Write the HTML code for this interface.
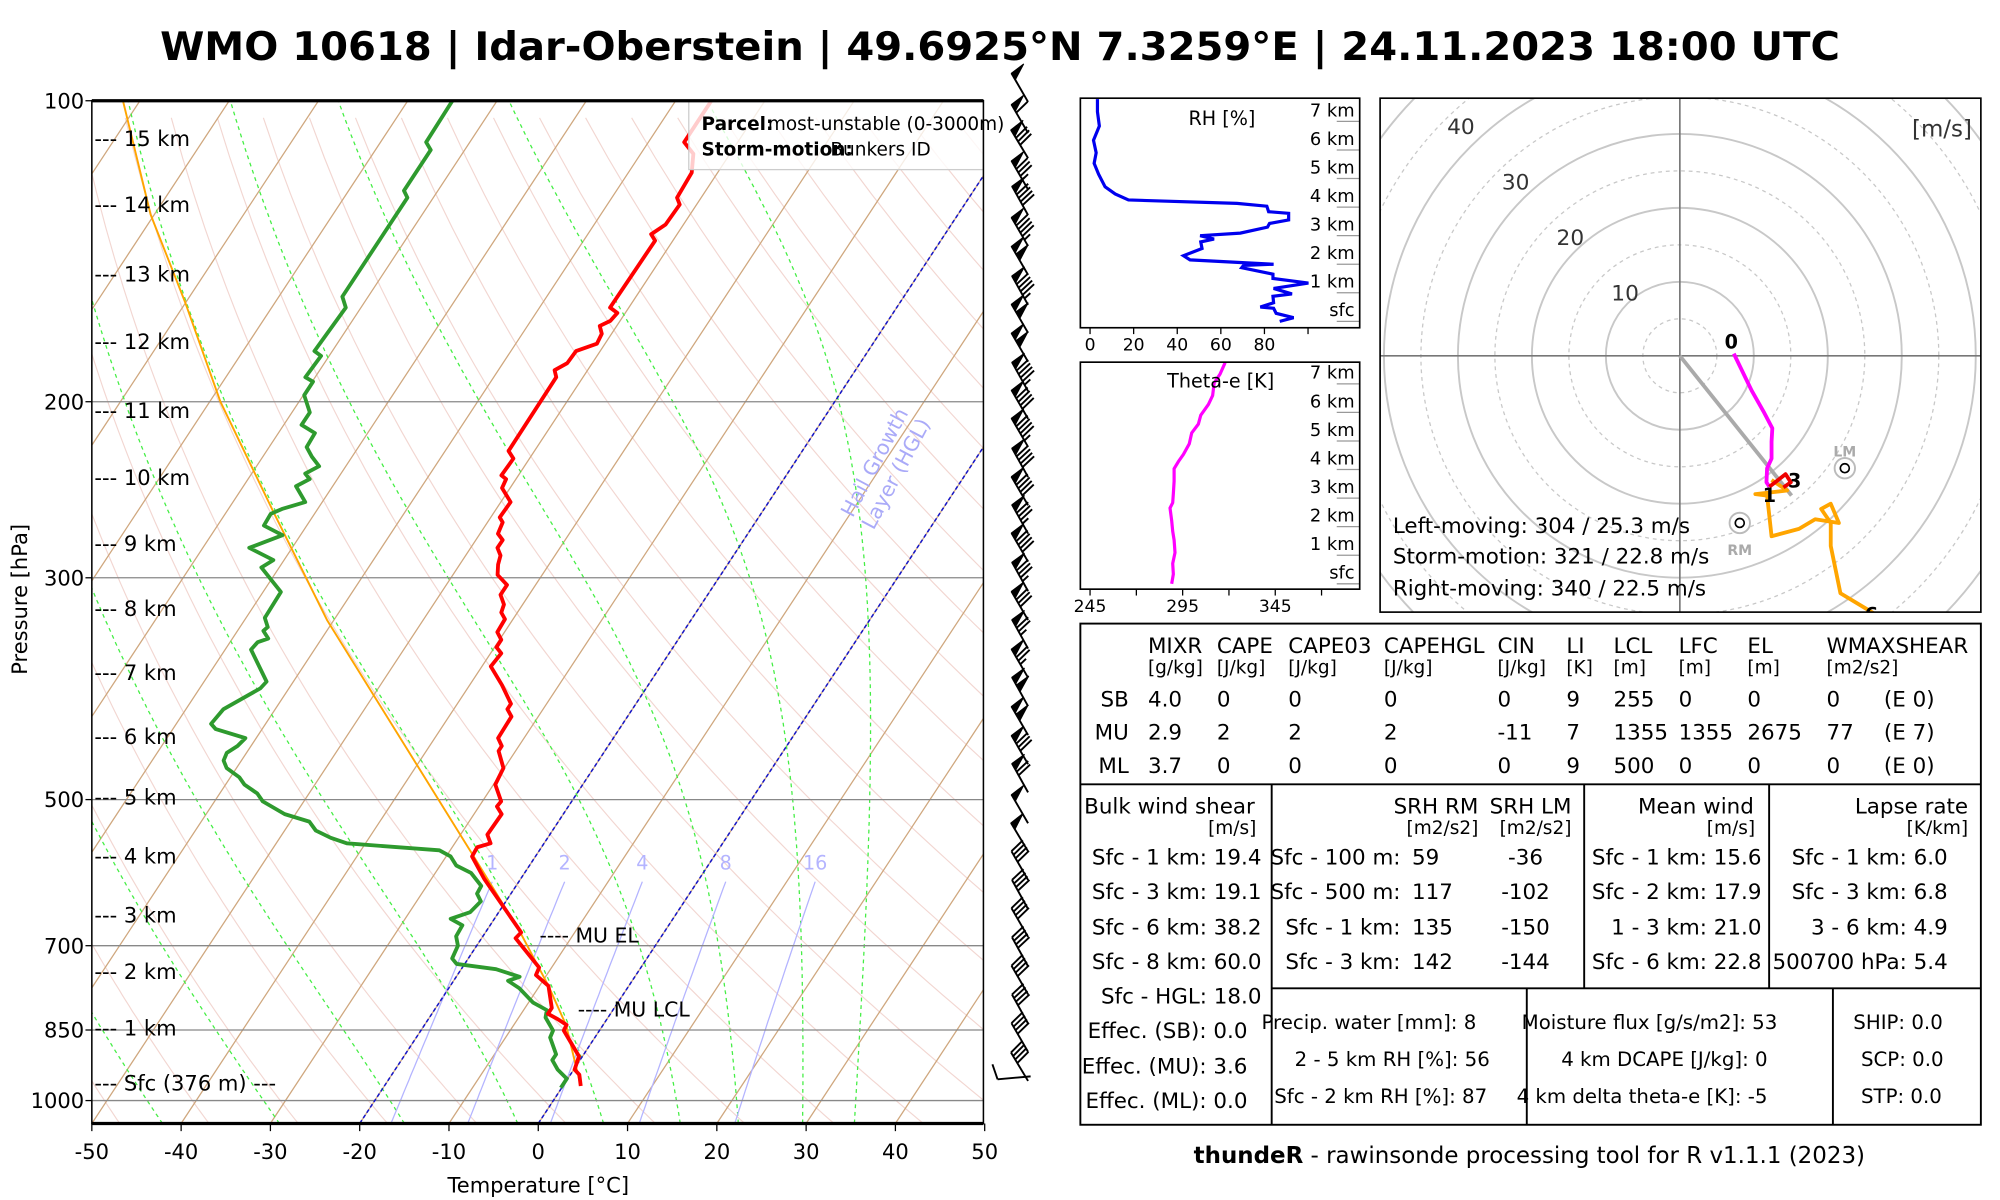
<!DOCTYPE html>
<html><head><meta charset="utf-8"><title>Skew-T WMO 10618</title>
<style>
html,body{margin:0;padding:0;background:#fff;}
svg{display:block;font-family:"DejaVu Sans","Liberation Sans",sans-serif;}
</style></head>
<body>
<svg id="root" width="2000" height="1200" viewBox="0 0 1568 941" preserveAspectRatio="none" xmlns="http://www.w3.org/2000/svg">
<defs>
<clipPath id="skewclip"><rect x="72" y="79" width="699" height="802"/></clipPath>
<clipPath id="rhclip"><rect x="847" y="77" width="219" height="180"/></clipPath>
<clipPath id="thclip"><rect x="847" y="284" width="219" height="178"/></clipPath>
<clipPath id="hodoclip"><rect x="1082" y="77" width="471" height="403"/></clipPath>
</defs>
<rect x="0" y="0" width="1568" height="941" fill="#fff"/>
<text x="784" y="47" text-anchor="middle" font-size="31" font-weight="bold" textLength="1317" lengthAdjust="spacingAndGlyphs">WMO 10618 | Idar-Oberstein | 49.6925°N 7.3259°E | 24.11.2023 18:00 UTC</text>

<g id="skew-bg" clip-path="url(#skewclip)"></g>
<g id="skew-data" clip-path="url(#skewclip)"></g>
<g id="skew-ann"></g>
<g id="barbs"></g>
<g id="rhpanel"></g>
<g id="thpanel"></g>
<g id="hodo"></g>

<g id="table" font-size="16.8">
<rect x="847" y="489" width="706" height="393" fill="none" stroke="#000" stroke-width="1.5"/>
<line x1="847" y1="615" x2="1553" y2="615" stroke="#000" stroke-width="1.5"/>
<line x1="997" y1="615" x2="997" y2="882" stroke="#000" stroke-width="1.5"/>
<line x1="1242" y1="615" x2="1242" y2="775" stroke="#000" stroke-width="1.5"/>
<line x1="1387" y1="615" x2="1387" y2="775" stroke="#000" stroke-width="1.5"/>
<line x1="997" y1="775" x2="1553" y2="775" stroke="#000" stroke-width="1.5"/>
<line x1="1197" y1="775" x2="1197" y2="882" stroke="#000" stroke-width="1.5"/>
<line x1="1437" y1="775" x2="1437" y2="882" stroke="#000" stroke-width="1.5"/>
<g>
<text x="900" y="512">MIXR</text><text x="954" y="512">CAPE</text><text x="1010" y="512">CAPE03</text><text x="1085" y="512">CAPEHGL</text><text x="1174" y="512">CIN</text><text x="1228" y="512">LI</text><text x="1265" y="512">LCL</text><text x="1316" y="512">LFC</text><text x="1370" y="512">EL</text><text x="1432" y="512">WMAXSHEAR</text>
</g>
<g font-size="14.5">
<text x="900" y="528">[g/kg]</text><text x="954" y="528">[J/kg]</text><text x="1010" y="528">[J/kg]</text><text x="1085" y="528">[J/kg]</text><text x="1174" y="528">[J/kg]</text><text x="1228" y="528">[K]</text><text x="1265" y="528">[m]</text><text x="1316" y="528">[m]</text><text x="1370" y="528">[m]</text><text x="1432" y="528">[m2/s2]</text>
</g>
<g>
<text x="885" y="554" text-anchor="end">SB</text><text x="900" y="554">4.0</text><text x="954" y="554">0</text><text x="1010" y="554">0</text><text x="1085" y="554">0</text><text x="1174" y="554">0</text><text x="1228" y="554">9</text><text x="1265" y="554">255</text><text x="1316" y="554">0</text><text x="1370" y="554">0</text><text x="1432" y="554">0</text><text x="1477" y="554">(E 0)</text>
</g>
<g>
<text x="885" y="580" text-anchor="end">MU</text><text x="900" y="580">2.9</text><text x="954" y="580">2</text><text x="1010" y="580">2</text><text x="1085" y="580">2</text><text x="1174" y="580">-11</text><text x="1228" y="580">7</text><text x="1265" y="580">1355</text><text x="1316" y="580">1355</text><text x="1370" y="580">2675</text><text x="1432" y="580">77</text><text x="1477" y="580">(E 7)</text>
</g>
<g>
<text x="885" y="606" text-anchor="end">ML</text><text x="900" y="606">3.7</text><text x="954" y="606">0</text><text x="1010" y="606">0</text><text x="1085" y="606">0</text><text x="1174" y="606">0</text><text x="1228" y="606">9</text><text x="1265" y="606">500</text><text x="1316" y="606">0</text><text x="1370" y="606">0</text><text x="1432" y="606">0</text><text x="1477" y="606">(E 0)</text>
</g>
<g>
<text x="850" y="638">Bulk wind shear</text><text x="985" y="654" text-anchor="end" font-size="14.5">[m/s]</text>
<text x="989" y="678" text-anchor="end">Sfc - 1 km: 19.4</text>
<text x="989" y="705" text-anchor="end">Sfc - 3 km: 19.1</text>
<text x="989" y="733" text-anchor="end">Sfc - 6 km: 38.2</text>
<text x="989" y="760" text-anchor="end">Sfc - 8 km: 60.0</text>
<text x="989" y="787" text-anchor="end">Sfc - HGL: 18.0</text>
<text x="978" y="814" text-anchor="end">Effec. (SB): 0.0</text>
<text x="978" y="842" text-anchor="end">Effec. (MU): 3.6</text>
<text x="978" y="869" text-anchor="end">Effec. (ML): 0.0</text>
</g>
<g>
<text x="1159" y="638" text-anchor="end">SRH RM</text><text x="1232" y="638" text-anchor="end">SRH LM</text>
<text x="1159" y="654" text-anchor="end" font-size="14.5">[m2/s2]</text><text x="1232" y="654" text-anchor="end" font-size="14.5">[m2/s2]</text>
<text x="1098" y="678" text-anchor="end">Sfc - 100 m:</text><text x="1107" y="678">59</text><text x="1196" y="678" text-anchor="middle">-36</text>
<text x="1098" y="705" text-anchor="end">Sfc - 500 m:</text><text x="1107" y="705">117</text><text x="1196" y="705" text-anchor="middle">-102</text>
<text x="1098" y="733" text-anchor="end">Sfc - 1 km:</text><text x="1107" y="733">135</text><text x="1196" y="733" text-anchor="middle">-150</text>
<text x="1098" y="760" text-anchor="end">Sfc - 3 km:</text><text x="1107" y="760">142</text><text x="1196" y="760" text-anchor="middle">-144</text>
</g>
<g>
<text x="1375" y="638" text-anchor="end">Mean wind</text><text x="1376" y="654" text-anchor="end" font-size="14.5">[m/s]</text>
<text x="1381" y="678" text-anchor="end">Sfc - 1 km: 15.6</text>
<text x="1381" y="705" text-anchor="end">Sfc - 2 km: 17.9</text>
<text x="1381" y="733" text-anchor="end">1 - 3 km: 21.0</text>
<text x="1381" y="760" text-anchor="end">Sfc - 6 km: 22.8</text>
</g>
<g>
<text x="1543" y="638" text-anchor="end">Lapse rate</text><text x="1543" y="654" text-anchor="end" font-size="14.5">[K/km]</text>
<text x="1527" y="678" text-anchor="end">Sfc - 1 km: 6.0</text>
<text x="1527" y="705" text-anchor="end">Sfc - 3 km: 6.8</text>
<text x="1527" y="733" text-anchor="end">3 - 6 km: 4.9</text>
<text x="1527" y="760" text-anchor="end">500700 hPa: 5.4</text>
</g>
<g font-size="15.5">
<text x="989" y="807">Precip. water [mm]: 8</text>
<text x="1015" y="836">2 - 5 km RH [%]: 56</text>
<text x="999" y="865">Sfc - 2 km RH [%]: 87</text>
<text x="1193" y="807">Moisture flux [g/s/m2]: 53</text>
<text x="1224" y="836">4 km DCAPE [J/kg]: 0</text>
<text x="1189" y="865">4 km delta theta-e [K]: -5</text>
</g>
<g font-size="15.5">
<text x="1453" y="807">SHIP: 0.0</text>
<text x="1459" y="836">SCP: 0.0</text>
<text x="1459" y="865">STP: 0.0</text>
</g>
</g>
<text x="1199" y="912" text-anchor="middle" font-size="18"><tspan font-weight="bold">thundeR</tspan> - rawinsonde processing tool for R v1.1.1 (2023)</text>
</svg>

<script>
// ---------------- data ----------------
const tempP = [100,110,113,118,125,127,133,136,138,161,163,166,168,171,175,178,183,186,189,224,228,237,239,244,252,261,264,271,275,280,285,291,298,305,312,319,325,330,340,346,352,357,368,384,401,406,413,434,442,447,465,483,502,508,517,542,553,558,570,600,679,688,736,749,768,808,819,829,840,851,903,931,942,967];
const tempT = [-56.0,-56.0,-54.1,-52.9,-52.7,-51.9,-52.0,-52.9,-52.0,-52.1,-50.9,-51.1,-51.9,-51.1,-50.9,-52.7,-52.8,-53.7,-53.0,-52.9,-51.8,-51.9,-51.1,-50.9,-48.9,-49.0,-48.3,-48.0,-47.0,-47.0,-46.1,-45.7,-45.0,-43.2,-43.2,-42.1,-41.8,-40.9,-40.8,-39.8,-39.8,-38.8,-39.0,-36.4,-34.0,-34.0,-33.0,-32.9,-31.9,-31.9,-30.1,-29.8,-27.9,-28.0,-26.9,-27.0,-26.0,-27.2,-27.1,-24.1,-16.0,-16.2,-11.4,-11.2,-9.0,-7.0,-7.0,-5.5,-4.1,-4.0,-0.4,0.1,1.0,2.0];
const dewP = [100,110,112,123,125,157,161,178,180,189,191,197,205,211,215,222,227,232,236,239,243,252,256,259,266,272,280,288,293,310,329,336,339,345,348,354,381,387,406,420,425,434,442,449,457,465,475,483,493,502,517,526,537,546,553,562,570,582,592,610,621,632,648,658,668,685,700,721,730,739,752,759,772,798,812,826,851,865,899,911,931,951,971];
const dewT = [-85.0,-84.9,-83.8,-83.8,-82.9,-82.9,-81.7,-82.0,-80.9,-81.1,-79.9,-79.9,-78.0,-78.0,-75.9,-75.8,-74.5,-73.0,-74.0,-73.1,-74.1,-71.9,-74.0,-74.9,-74.8,-72.0,-74.8,-71.2,-72.0,-68.0,-67.9,-66.9,-67.1,-66.0,-66.9,-67.1,-63.0,-63.2,-65.8,-66.1,-65.2,-61.2,-61.5,-62.2,-62.0,-61.1,-59.0,-57.9,-55.8,-54.6,-51.2,-47.9,-46.5,-44.3,-42.1,-31.2,-29.5,-28.2,-26.0,-23.9,-23.8,-22.8,-23.2,-24.9,-23.1,-23.0,-22.1,-21.8,-20.9,-16.1,-12.9,-13.9,-12.1,-9.5,-7.4,-7.0,-5.2,-5.0,-3.1,-3.1,-1.8,-0.1,-0.1];
const parcelP = [965,841,768,679,571,331,258,200,159,130,100];
const parcelT = [1.9,-4.1,-9.0,-16.1,-26.8,-60.7,-74.7,-88.8,-100.1,-110.4,-121.9];
const pressureTicks = [100,200,300,500,700,850,1000];
const tempTicks = [-50,-40,-30,-20,-10,0,10,20,30,40,50];
const mixingRatios = [1,2,4,8,16];
const moistStartT = [-42.1,-29.0,-15.0,-2.3,7.3,15.9,22.4,29.6,35.4];
const hglBounds = [-20,0];
const heightLabels = ['15 km','14 km','13 km','12 km','11 km','10 km','9 km','8 km','7 km','6 km','5 km','4 km','3 km','2 km','1 km','Sfc (376 m) ---'];
const heightLabelP = [109,127,149,174,204,238,277,322,373,432,497,569,652,743,846,960];
const barbP = [94,101,107,115,122,131,140,150,160,171,183,195,208,223,238,254,271,290,310,331,354,378,404,432,461,495,528,564,603,643,688,734,785,838,896];
const barbSpd = [50,60,80,85,90,95,100,95,100,100,95,90,95,90,90,85,90,85,80,75,75,100,100,80,70,50,50,40,40,40,40,40,40,40,40];
const barbDir = [330,330,329,330,331,330,330,331,330,330,331,330,330,331,330,331,330,331,330,331,330,331,330,330,331,330,329,330,331,330,331,330,331,330,329];
const sfcBarb = {p:957, spd:10, dir:265};
const rhVals = [3.4,3.4,4.3,1.6,2.8,1.9,3.9,6.9,11.5,17.6,67.4,81.1,81.9,91.1,91.1,82.3,81.4,68.9,50.5,56.9,50.8,51.4,42.9,45.9,84.2,70.4,69.6,83.9,83.9,100.2,84.2,92.6,83.9,84.2,78.1,84.2,85.4,93.4,87.0];
const rhHgt = [7.78,7.34,6.84,6.34,5.90,5.53,5.15,4.71,4.46,4.25,4.13,4.03,3.84,3.78,3.55,3.43,3.30,3.09,3.00,2.88,2.78,2.55,2.30,2.15,2.00,1.96,1.88,1.65,1.50,1.34,1.15,0.96,0.88,0.65,0.50,0.46,0.28,0.13,0.00];
const thetaeVals = [317.9,315.2,312.0,311.2,308.9,304.8,303.5,299.9,298.6,295.4,292.7,290.4,290.4,290.0,289.6,288.2,289.1,289.6,290.4,290.9,289.6,290.0,289.1];
const thetaeHgt = [7.74,7.34,7.03,6.59,6.28,5.90,5.59,5.28,4.90,4.53,4.28,4.03,3.59,3.15,2.84,2.65,2.21,1.84,1.53,1.09,0.71,0.34,0.0];
const kmLabels = ['7 km','6 km','5 km','4 km','3 km','2 km','1 km','sfc'];
const kmLevels = [7,6,5,4,3,2,1,0];
const rhTicks = [0,20,40,60,80,100];
const rhTickLabels = ['0','20','40','60','80',''];
const thTicks = [245,270,295,320,345,370];
const thTickLabels = ['245','','295','','345',''];
const hodoU1 = [7.3,9.7,11.3,12.5,12.4,12.4,11.8,11.7,12.1];
const hodoV1 = [0.3,-4.7,-7.5,-9.8,-11.6,-13.9,-15.2,-17.1,-17.7];
const hodoU2 = [12.1,14.3,15.0,14.0];
const hodoV2 = [-17.7,-16.0,-17.1,-17.8];
const hodoU3 = [12.4,14.5,10.2,11.8,12.4,16.1,18.3,21.5,20.4,19.1,20.4,20.4,21.7,25.2,27.5];
const hodoV3 = [-16.8,-18.2,-18.7,-18.9,-24.4,-23.4,-22.1,-22.6,-20.0,-20.7,-22.6,-25.7,-32.1,-34.2,-35.6];
const stormUV = [15.1,-18.9];
const lmUV = [22.3,-15.2];
const rmUV = [8.1,-22.6];
const ringSpeeds = [5,10,15,20,25,30,35,40,45,50,55,60];
const ringLabels = [10,20,30,40];

// ---------------- helpers ----------------
const NS='http://www.w3.org/2000/svg';
function mk(tag,parent,a){const e=document.createElementNS(NS,tag);for(const k in a)e.setAttribute(k,a[k]);parent.appendChild(e);return e;}
const yP = p => 79 + 340.5*Math.log(p/100);
const xT = (T,p) => 72 + (T+50)*7 + 0.658*(881 - yP(p));
const PBOT = 1054;
function poly(pts){return pts.map(q=>q[0].toFixed(1)+','+q[1].toFixed(1)).join(' ');}

const bg=document.getElementById('skew-bg');
const dg=document.getElementById('skew-data');
const an=document.getElementById('skew-ann');

for(let k=0;k<45;k++){
  const th=(226.25+10*k)*0.98508; const pts=[];
  for(let p=PBOT;p>=95;p-=10){pts.push([xT(th*Math.pow(p/1000,0.286)-273.15,p),yP(p)]);}
  const e=mk('polyline',bg,{points:poly(pts),fill:'none',stroke:'#e8b4ac','stroke-opacity':'0.55','stroke-width':'0.9'});
  
  
}
for(let T=-160;T<=50;T+=10){
  const e=mk('line',bg,{x1:xT(T,PBOT),y1:yP(PBOT),x2:xT(T,95),y2:yP(95),stroke:'#cfa77e','stroke-width':'1'});
  
  
}
function es(T){return 6.112*Math.exp(17.67*T/(T+243.5));}
moistStartT.forEach(T0=>{
  let T=T0+273.15; const pts=[];
  for(let p=PBOT;p>=100;p-=2){
    pts.push([xT(T-273.15,p),yP(p)]);
    const e0=es(T-273.15); const rs=0.622*e0/(p-e0);
    const dTdp=(287*T+2.5e6*rs)/(p*(1005+2.5e6*2.5e6*rs*0.622/(287*T*T)));
    T-=dTdp*2;
  }
  const e=mk('polyline',bg,{points:poly(pts),fill:'none',stroke:'#44ee44','stroke-width':'1','stroke-dasharray':'3,3'});
  
  
});
mixingRatios.forEach(w=>{
  const pts=[];
  for(let p=PBOT;p>=600;p-=10){const e0=(w/1000)*p/(0.622+w/1000);const L=Math.log(e0/6.112);pts.push([xT(243.5*L/(17.67-L),p),yP(p)]);}
  const e=mk('polyline',bg,{points:poly(pts),fill:'none',stroke:'#b4b4ff','stroke-width':'1'});
  
  
  const last=pts[pts.length-1];
  const t=mk('text',an,{x:last[0],y:682,'text-anchor':'middle','font-size':'15',fill:'#b4b4ff'});
  t.textContent=String(w);
  
  
});
pressureTicks.forEach(p=>{
  const e=mk('line',bg,{x1:72,y1:yP(p),x2:771,y2:yP(p),stroke:'#888','stroke-width':'1'});
  
  
});
hglBounds.forEach(T=>{
  const e=mk('line',bg,{x1:xT(T,PBOT),y1:yP(PBOT),x2:xT(T,95),y2:yP(95),stroke:'#1515c8','stroke-width':'1.2','stroke-dasharray':'3,2'});
  
  
});
function profile(P,T,color,w,name){
  const pts=P.map((p,i)=>[xT(T[i],p),yP(p)]);
  const e=mk('polyline',dg,{points:poly(pts),fill:'none',stroke:color,'stroke-width':w,'stroke-linejoin':'round'});
  
  
}
profile(parcelP,parcelT,'#ffa500','1.5','parcel-curve');
profile(dewP,dewT,'#2e9a2e','3','dewpoint-profile');
profile(tempP,tempT,'#ff0000','3','temperature-profile');

const hg=mk('g',an,{transform:'translate(694,367) rotate(-62)',fill:'#aaaaf8','font-size':'16','text-anchor':'middle'});


const h1=mk('text',hg,{x:0,y:-4}); h1.textContent='Hail Growth';


const h2=mk('text',hg,{x:0,y:15}); h2.textContent='Layer (HGL)';



const el1=mk('text',an,{x:423,y:739,'font-size':'16'}); el1.textContent='---- MU EL';


const el2=mk('text',an,{x:453,y:797,'font-size':'16'}); el2.textContent='---- MU LCL';



heightLabels.forEach((s,i)=>{
  const t=mk('text',an,{x:74,y:yP(heightLabelP[i])+6,'font-size':'16.5'});
  t.textContent='--- '+s;
  
  
});

const lg=mk('g',an,{});


const lr=mk('rect',lg,{x:540,y:79,width:231,height:54,fill:'#fff','fill-opacity':'0.8',stroke:'#ccc'});


[[550,102,'Parcel:','bold'],[602,102,'most-unstable (0-3000m)','normal'],[550,122,'Storm-motion:','bold'],[651,122,'Bunkers ID','normal']].forEach(d=>{
  const t=mk('text',lg,{x:d[0],y:d[1],'font-size':'14.5','font-weight':d[3]}); t.textContent=d[2];
  
  
});

const fr=mk('rect',an,{x:72,y:79,width:699,height:802,fill:'none',stroke:'#000','stroke-width':'1.2'});


const tl=mk('line',an,{x1:72,y1:79,x2:771,y2:79,stroke:'#000','stroke-width':'2.5'});


const bl=mk('line',an,{x1:72,y1:881,x2:771,y2:881,stroke:'#000','stroke-width':'2.5'});


tempTicks.forEach(T=>{
  const x=72+(T+50)*7;
  const tk=mk('line',an,{x1:x,y1:881,x2:x,y2:887,stroke:'#000','stroke-width':'1'});
  
  
  const t=mk('text',an,{x:x,y:909,'text-anchor':'middle','font-size':'16.5'}); t.textContent=String(T);
  
  
});
pressureTicks.forEach(p=>{
  const y=yP(p);
  const tk=mk('line',an,{x1:67,y1:y,x2:72,y2:y,stroke:'#000','stroke-width':'1'});
  
  
  const t=mk('text',an,{x:66,y:y+6,'text-anchor':'end','font-size':'16.5'}); t.textContent=String(p);
  
  
});
const xt=mk('text',an,{x:422,y:935,'text-anchor':'middle','font-size':'16.5'}); xt.textContent='Temperature [°C]';


const yt=mk('text',an,{x:0,y:0,'text-anchor':'middle','font-size':'16.5',transform:'translate(21,470) rotate(-90)'}); yt.textContent='Pressure [hPa]';



// wind barbs
const bg2=document.getElementById('barbs');
function barb(sx,sy,spd,dir){
  const g=mk('g',bg2,{});
  
  
  const r=dir*Math.PI/180, L=26;
  const s=[Math.sin(r),-Math.cos(r)], n=[-s[1],s[0]];
  const tx=sx+s[0]*L, ty=sy+s[1]*L;
  mk('line',g,{x1:sx,y1:sy,x2:tx,y2:ty,stroke:'#000','stroke-width':'1.5'});
  let v=Math.round(spd/5)*5, d=0;
  while(v>=50){const q=[tx-s[0]*d,ty-s[1]*d];
    mk('polygon',g,{points:poly([q,[q[0]+n[0]*12+s[0]*1.5,q[1]+n[1]*12+s[1]*1.5],[q[0]-s[0]*6,q[1]-s[1]*6]]),fill:'#000',stroke:'#000','stroke-width':'0.8'});
    d+=7; v-=50;}
  if(d>0) d+=0.5;
  while(v>=10){const q=[tx-s[0]*d,ty-s[1]*d];
    mk('line',g,{x1:q[0],y1:q[1],x2:q[0]+n[0]*12+s[0]*3,y2:q[1]+n[1]*12+s[1]*3,stroke:'#000','stroke-width':'1.5'});
    d+=3.2; v-=10;}
  if(v>=5){if(d===0)d=3.2;const q=[tx-s[0]*d,ty-s[1]*d];
    mk('line',g,{x1:q[0],y1:q[1],x2:q[0]+n[0]*6+s[0]*1.5,y2:q[1]+n[1]*6+s[1]*1.5,stroke:'#000','stroke-width':'1.5'});}
}
barbP.forEach((p,i)=>barb(806,yP(p)+22,barbSpd[i],barbDir[i]));
barb(808,yP(sfcBarb.p)-4,sfcBarb.spd,sfcBarb.dir);

// RH panel
const rh=document.getElementById('rhpanel');
const rx=v=>854.6+1.709*v, ry=h=>252-22.4*h;
function kmAxis(parent,baseY){
  kmLabels.forEach((s,i)=>{
    const y=baseY-22.4*kmLevels[i];
    const ln=mk('line',parent,{x1:1048,y1:y,x2:1066,y2:y,stroke:'#999','stroke-width':'1'});
    
    
    const t=mk('text',parent,{x:1062,y:y-4,'text-anchor':'end','font-size':'14'}); t.textContent=s;
    
    
  });
}
kmAxis(rh,252);
const rhc=mk('polyline',rh,{points:poly(rhVals.map((v,i)=>[rx(v),ry(rhHgt[i])])),fill:'none',stroke:'#0000ee','stroke-width':'2.5','clip-path':'url(#rhclip)'});


const rhb=mk('rect',rh,{x:847,y:77,width:219,height:180,fill:'none',stroke:'#000','stroke-width':'1.3'});


const rht=mk('text',rh,{x:958,y:98,'text-anchor':'middle','font-size':'15'}); rht.textContent='RH [%]';


rhTicks.forEach((v,i)=>{
  const tk=mk('line',rh,{x1:rx(v),y1:257,x2:rx(v),y2:262,stroke:'#000'});
  
  
  const t=mk('text',rh,{x:rx(v),y:275,'text-anchor':'middle','font-size':'13.5'}); t.textContent=rhTickLabels[i];
  
  
});

// Theta-e panel
const th=document.getElementById('thpanel');
const qx=v=>854.6+1.452*(v-245), qy=h=>457.8-22.4*h;
kmAxis(th,457.8);
const thc=mk('polyline',th,{points:poly(thetaeVals.map((v,i)=>[qx(v),qy(thetaeHgt[i])])),fill:'none',stroke:'#ff00ff','stroke-width':'2.5','clip-path':'url(#thclip)'});


const thb=mk('rect',th,{x:847,y:284,width:219,height:178,fill:'none',stroke:'#000','stroke-width':'1.3'});


const tht=mk('text',th,{x:957,y:304,'text-anchor':'middle','font-size':'15'}); tht.textContent='Theta-e [K]';


thTicks.forEach((v,i)=>{
  const tk=mk('line',th,{x1:qx(v),y1:462,x2:qx(v),y2:467,stroke:'#000'});
  
  
  const t=mk('text',th,{x:qx(v),y:480,'text-anchor':'middle','font-size':'13.5'}); t.textContent=thTickLabels[i];
  
  
});

// Hodograph
const ho=document.getElementById('hodo');
const CX=1317, CY=279, S=5.8;
const hx=u=>CX+u*S, hy=v=>CY-v*S;
const hc=mk('g',ho,{'clip-path':'url(#hodoclip)'});


ringSpeeds.forEach(r=>{
  const c=mk('circle',hc,{cx:CX,cy:CY,r:r*S,fill:'none',stroke:'#c8c8c8','stroke-width':r%10===0?'1.5':'1','stroke-dasharray':r%10===0?'none':'3,3'});
  
  
});
const ax1=mk('line',hc,{x1:1082,y1:CY,x2:1553,y2:CY,stroke:'#777','stroke-width':'1.3'});


const ax2=mk('line',hc,{x1:CX,y1:77,x2:CX,y2:480,stroke:'#777','stroke-width':'1.3'});


ringLabels.forEach(r=>{
  const t=mk('text',hc,{x:CX-r*S*0.74,y:CY-r*S*0.75,'text-anchor':'middle','font-size':'17',fill:'#333'}); t.textContent=String(r);
  
  
});
const smL=mk('line',hc,{x1:hx(0),y1:hy(0),x2:hx(stormUV[0]),y2:hy(stormUV[1]),stroke:'#aaa','stroke-width':'3'});


function hline(U,V,color,name){
  const e=mk('polyline',hc,{points:poly(U.map((u,i)=>[hx(u),hy(V[i])])),fill:'none',stroke:color,'stroke-width':'3','stroke-linejoin':'round'});
  
  
}
hline(hodoU3,hodoV3,'#ffa500','hodograph-3-6km');
hline(hodoU1,hodoV1,'#ff00ff','hodograph-0-1km');
hline(hodoU2,hodoV2,'#ee0000','hodograph-1-3km');
[[lmUV,'LM',-13],[rmUV,'RM',21]].forEach(d=>{
  const c=mk('circle',hc,{cx:hx(d[0][0]),cy:hy(d[0][1]),r:8,fill:'#fff',stroke:'#bbb','stroke-width':'1.5'});
  
  
  const o=mk('circle',hc,{cx:hx(d[0][0]),cy:hy(d[0][1]),r:3.5,fill:'none',stroke:'#000','stroke-width':'1.3'});
  
  
  const t=mk('text',hc,{x:hx(d[0][0]),y:hy(d[0][1])+d[2]+4,'text-anchor':'middle','font-size':'11','font-weight':'bold',fill:'#aaa'}); t.textContent=d[1];
  
  
});
[[hodoU1[0],hodoV1[0],'0',-2,-4],[hodoU1[hodoU1.length-1],hodoV1[hodoV1.length-1],'1',0,12],[hodoU2[2],hodoV2[2],'3',3,4],[hodoU3[hodoU3.length-2],hodoV3[hodoV3.length-2],'6',4,10]].forEach(d=>{
  const t=mk('text',hc,{x:hx(d[0])+d[3],y:hy(d[1])+d[4],'text-anchor':'middle','font-size':'15','font-weight':'bold'}); t.textContent=d[2];
  
  
});
const hb=mk('rect',ho,{x:1082,y:77,width:471,height:403,fill:'none',stroke:'#000','stroke-width':'1.3'});


const hu=mk('text',ho,{x:1546,y:107,'text-anchor':'end','font-size':'18',fill:'#333'}); hu.textContent='[m/s]';


[['Left-moving: 304 / 25.3 m/s',418],['Storm-motion: 321 / 22.8 m/s',442],['Right-moving: 340 / 22.5 m/s',467]].forEach(d=>{
  const t=mk('text',ho,{x:1092,y:d[1],'font-size':'16.8'}); t.textContent=d[0];
  
  
});
</script>
</body></html>
